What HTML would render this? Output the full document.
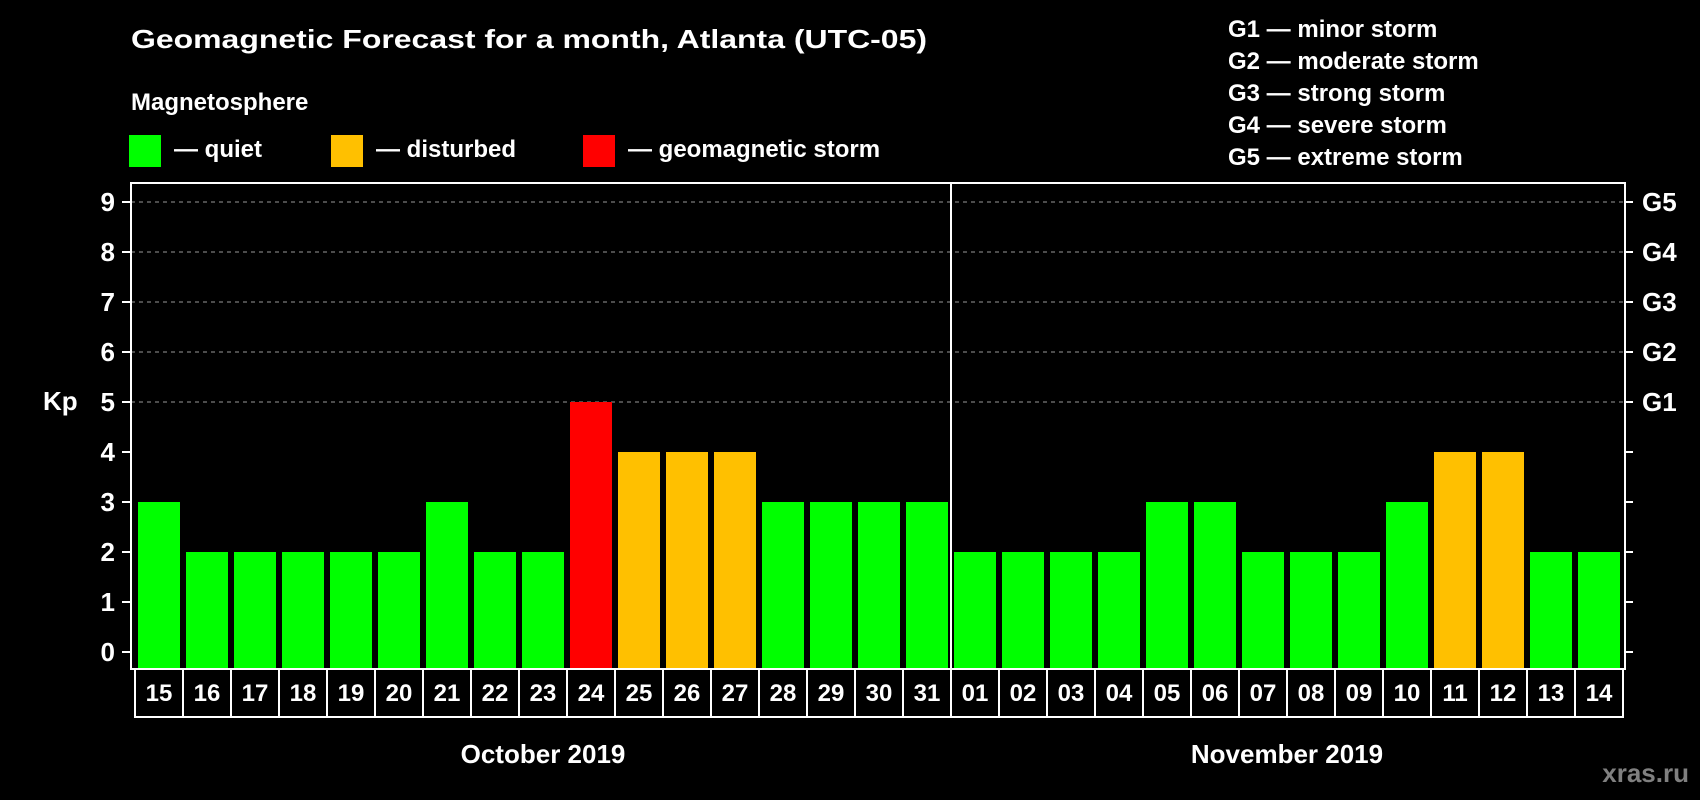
<!DOCTYPE html>
<html><head><meta charset="utf-8"><style>
html,body{margin:0;padding:0;background:#000;}
svg{display:block;font-family:"Liberation Sans",Arial,sans-serif;font-weight:bold;}
</style></head><body>
<svg id="chart" width="1700" height="800" viewBox="0 0 1700 800" xmlns="http://www.w3.org/2000/svg">
<rect x="0" y="0" width="1700" height="800" fill="#000"/>
<text x="131" y="48" fill="#fff" font-size="26" textLength="796" lengthAdjust="spacingAndGlyphs">Geomagnetic Forecast for a month, Atlanta (UTC-05)</text>
<text x="131" y="110" fill="#fff" font-size="24">Magnetosphere</text>
<g><rect x="129" y="135" width="32" height="32" fill="#00ff00"/><text x="174" y="157" fill="#fff" font-size="24">— quiet</text></g>
<g><rect x="331" y="135" width="32" height="32" fill="#ffc000"/><text x="376" y="157" fill="#fff" font-size="24">— disturbed</text></g>
<g><rect x="583" y="135" width="32" height="32" fill="#ff0000"/><text x="628" y="157" fill="#fff" font-size="24">— geomagnetic storm</text></g>
<g fill="#fff" font-size="24">
<text x="1228" y="37">G1 — minor storm</text>
<text x="1228" y="69">G2 — moderate storm</text>
<text x="1228" y="101">G3 — strong storm</text>
<text x="1228" y="133">G4 — severe storm</text>
<text x="1228" y="165">G5 — extreme storm</text>
</g>
<text x="43" y="410" fill="#fff" font-size="26">Kp</text>
<g id="grid"></g>
<g id="bars"></g>
<g id="axes"></g>
<text x="543" y="763" fill="#fff" font-size="26" text-anchor="middle">October 2019</text>
<text x="1287" y="763" fill="#fff" font-size="26" text-anchor="middle">November 2019</text>
<text x="1689" y="782" fill="#808080" font-size="26" text-anchor="end">xras.ru</text>
</svg>
<script>
const days = ["15","16","17","18","19","20","21","22","23","24","25","26","27","28","29","30","31","01","02","03","04","05","06","07","08","09","10","11","12","13","14"];
const kpValues = [3,2,2,2,2,2,3,2,2,5,4,4,4,3,3,3,3,2,2,2,2,3,3,2,2,2,3,4,4,2,2];
const yTicks = [0,1,2,3,4,5,6,7,8,9];
const gLabels = ["G1","G2","G3","G4","G5"];
const octDays = 17;

const NS = "http://www.w3.org/2000/svg";
const frameL = 131, frameR = 1625, frameT = 183, frameB = 669;
const cellX0 = 135, cellX1 = 1623;
const cellW = (cellX1 - cellX0) / days.length;
function y(v){ return 652 - v * 50; }
function x(i){ return cellX0 + i * cellW; }
function color(v){ return v >= 5 ? "#ff0000" : (v >= 4 ? "#ffc000" : "#00ff00"); }
function mk(tag, attrs, parent){
  const el = document.createElementNS(NS, tag);
  for (const k in attrs) el.setAttribute(k, attrs[k]);
  parent.appendChild(el); return el;
}
const grid = document.getElementById("grid");
const bars = document.getElementById("bars");
const axes = document.getElementById("axes");

yTicks.forEach(function(t){
  if (t >= 5) {
    const gl = mk("line", {x1: frameL, x2: frameR, y1: y(t), y2: y(t), stroke: "#999", "stroke-width": 1, "stroke-dasharray": "4 4"}, grid);
    
    
  }
  const tk = mk("line", {x1: 122, x2: frameL, y1: y(t), y2: y(t), stroke: "#fff", "stroke-width": 2}, axes);
  
  
  const rt = mk("line", {x1: frameR, x2: 1633, y1: y(t), y2: y(t), stroke: "#fff", "stroke-width": 2}, axes);
  
  
  const lb = mk("text", {x: 115, y: y(t) + 9, fill: "#fff", "font-size": 26, "text-anchor": "end"}, axes);
  lb.textContent = t;
  
  
  if (t >= 5) {
    const g = mk("text", {x: 1642, y: y(t) + 9, fill: "#fff", "font-size": 26}, axes);
    g.textContent = gLabels[t - 5];
    
    
  }
});

kpValues.forEach(function(v, i){
  const b = mk("rect", {x: x(i) + 3, y: y(v), width: cellW - 6, height: frameB - y(v), fill: color(v)}, bars);
  
  
});

const frame = mk("rect", {x: frameL, y: frameT, width: frameR - frameL, height: frameB - frameT, fill: "none", stroke: "#fff", "stroke-width": 2}, axes);


const sep = mk("line", {x1: x(octDays), x2: x(octDays), y1: frameT, y2: frameB, stroke: "#fff", "stroke-width": 2}, axes);



days.forEach(function(d, i){
  const c = mk("rect", {x: x(i), y: 669, width: cellW, height: 48, fill: "none", stroke: "#fff", "stroke-width": 2}, axes);
  
  
  const t = mk("text", {x: x(i) + cellW / 2, y: 701, fill: "#fff", "font-size": 24, "text-anchor": "middle"}, axes);
  t.textContent = d;
  
  
});
</script>
</body></html>
